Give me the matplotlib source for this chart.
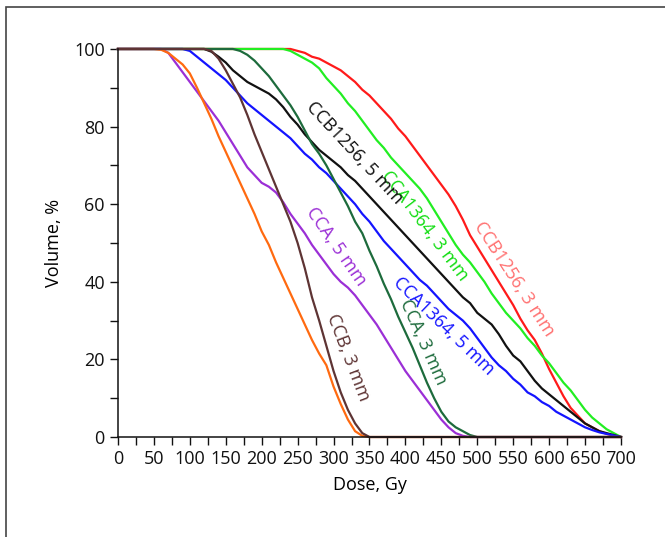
import matplotlib
matplotlib.use("Agg")
import matplotlib.pyplot as plt
from matplotlib.patches import Rectangle
from matplotlib.ticker import MultipleLocator

plt.rcParams['font.family'] = ['Open Sans', 'DejaVu Sans']

# dose grid, Gy (every 10 Gy from 0 to 700)
dose = [0, 10, 20, 30, 40, 50, 60, 70, 80, 90,
        100, 110, 120, 130, 140, 150, 160, 170, 180, 190,
        200, 210, 220, 230, 240, 250, 260, 270, 280, 290,
        300, 310, 320, 330, 340, 350, 360, 370, 380, 390,
        400, 410, 420, 430, 440, 450, 460, 470, 480, 490,
        500, 510, 520, 530, 540, 550, 560, 570, 580, 590,
        600, 610, 620, 630, 640, 650, 660, 670, 680, 690,
        700]

# volume, %
v_orange = [100, 100, 100, 100, 100, 100, 99.8, 99, 97.5, 96,
            93.7, 90, 86, 82, 77.5, 73.5, 69.5, 65.5, 61.5, 57.5,
            53, 49.5, 45, 41, 37, 33, 29, 25, 21.5, 18.5,
            13, 8.5, 4.5, 1.5, 0.3, 0, 0, 0, 0, 0,
            0, 0, 0, 0, 0, 0, 0, 0, 0, 0,
            0, 0, 0, 0, 0, 0, 0, 0, 0, 0,
            0, 0, 0, 0, 0, 0, 0, 0, 0, 0,
            0]
v_cca5 = [100, 100, 100, 100, 100, 100, 100, 99, 96.5, 94,
          91.5, 89, 86.5, 84, 81.5, 78.5, 75.5, 72.5, 69.5, 67.5,
          65.5, 64.5, 63, 60.5, 57.5, 55, 52.5, 49.5, 47, 44.5,
          42, 40, 38.5, 36.5, 34, 31.5, 29, 26, 23, 20,
          17, 14.5, 12, 9.5, 7, 4.5, 2.5, 1, 0.3, 0,
          0, 0, 0, 0, 0, 0, 0, 0, 0, 0,
          0, 0, 0, 0, 0, 0, 0, 0, 0, 0,
          0]
v_ccb3 = [100, 100, 100, 100, 100, 100, 100, 100, 100, 100,
          100, 100, 100, 99.5, 97.5, 94.5, 91, 87.5, 83, 78,
          73.5, 69, 64.5, 60, 55.5, 50, 43.5, 36, 30, 23.5,
          17, 11.5, 7, 3.5, 1, 0, 0, 0, 0, 0,
          0, 0, 0, 0, 0, 0, 0, 0, 0, 0,
          0, 0, 0, 0, 0, 0, 0, 0, 0, 0,
          0, 0, 0, 0, 0, 0, 0, 0, 0, 0,
          0]
v_cca1364_5 = [100, 100, 100, 100, 100, 100, 100, 100, 100, 100,
               99.5, 98, 96.5, 95, 93.5, 92, 90, 88, 86, 84.5,
               83, 81.5, 80, 78.5, 77, 75, 73, 71.5, 69.5, 68,
               66, 64, 62, 60, 57.5, 55.5, 53, 50.5, 48.5, 46.5,
               44.5, 42.5, 40.5, 39, 37, 35, 33, 31.5, 30, 28,
               25.5, 23, 20.5, 18.5, 17, 15, 13.5, 11.5, 10.5, 9,
               8, 6.5, 5.5, 4.5, 3.5, 2.5, 1.8, 1.2, 0.8, 0.4,
               0]
v_ccb1256_5 = [100, 100, 100, 100, 100, 100, 100, 100, 100, 100,
               100, 100, 100, 99.3, 98, 96.5, 94.5, 93, 91.5, 90.5,
               89.5, 88.5, 87, 85, 82.5, 80.5, 78, 76, 74, 72.5,
               71, 69.5, 67.5, 66, 64, 62, 60, 58, 56, 54,
               52, 50, 48, 46, 44, 42, 40, 38, 36, 34.5,
               32, 30.5, 29, 26.5, 23.5, 21, 19.5, 17, 14.5, 12.5,
               11, 9.5, 8, 6.5, 5, 3.5, 2.5, 1.5, 1, 0.5,
               0]
v_cca3 = [100, 100, 100, 100, 100, 100, 100, 100, 100, 100,
          100, 100, 100, 100, 100, 100, 100, 99.5, 98.5, 97,
          95, 93, 90.5, 88, 85.5, 82.5, 79, 75.5, 73, 70,
          66.5, 63, 59.5, 55.5, 52.5, 48, 44, 39.5, 35.5, 31,
          27, 23, 18.5, 14, 10, 6.5, 4, 2.5, 1.5, 0.5,
          0, 0, 0, 0, 0, 0, 0, 0, 0, 0,
          0, 0, 0, 0, 0, 0, 0, 0, 0, 0,
          0]
v_cca1364_3 = [100, 100, 100, 100, 100, 100, 100, 100, 100, 100,
               100, 100, 100, 100, 100, 100, 100, 100, 100, 100,
               100, 100, 100, 100, 99.5, 98.5, 97.5, 96.5, 95, 92.5,
               90.5, 88.5, 86, 84, 81.5, 79, 76.5, 74.5, 72, 70,
               68, 66, 64, 61.5, 58.5, 55.5, 52.5, 49.5, 47, 45,
               42.5, 40, 37, 34.5, 32, 30, 28, 25.5, 23.5, 21,
               19, 16.5, 14, 12, 9.5, 7, 5, 3.5, 2, 1,
               0]
v_ccb1256_3 = [100, 100, 100, 100, 100, 100, 100, 100, 100, 100,
               100, 100, 100, 100, 100, 100, 100, 100, 100, 100,
               100, 100, 100, 100, 100, 99.5, 99, 98, 97.5, 96.5,
               95.5, 94.5, 93, 91.5, 89.5, 88, 86, 84, 82, 79.5,
               77.5, 75, 72.5, 70, 67.5, 65, 62.5, 59.5, 56, 52,
               49, 46, 43, 40, 37, 34, 30.5, 27.5, 25, 21.5,
               17.5, 14, 10.5, 7.5, 5.5, 3.5, 2.5, 1.5, 0.8, 0.3,
               0]

# curve colour, label text, label colour, label position (Gy, %) and angle
curves = [
    (v_ccb1256_3, '#ff1a1a', 'CCB1256, 3 mm', '#ff7070', (551, 40.7), -57),
    (v_cca1364_3, '#22ee22', 'CCA1364, 3 mm', '#11dd11', (427, 54.4), -53),
    (v_ccb1256_5, '#111111', 'CCB1256, 5 mm', '#111111', (329, 73.3), -47),
    (v_cca1364_5, '#1414ff', 'CCA1364, 5 mm', '#1414ff', (453, 28.6), -44),
    (v_cca3, '#1d6b3c', 'CCA, 3 mm', '#1d6b3c', (424, 24.5), -66),
    (v_cca5, '#9b2fd6', 'CCA, 5 mm', '#9b2fd6', (304, 49), -55),
    (v_orange, '#ff6a10', None, None, None, 0),
    (v_ccb3, '#5e3434', 'CCB, 3 mm', '#5e3434', (320, 20.4), -69),
]

fig = plt.figure(figsize=(6.65, 5.37), dpi=100)
ax = fig.add_axes([0.1774, 0.1862, 0.7564, 0.7226])

for vals, col, lab, lcol, pos, ang in curves:
    ax.plot(dose, vals, color=col, lw=1.6, clip_on=False)
    if lab:
        ax.text(pos[0], pos[1], lab, color=lcol, fontsize=13, rotation=ang,
                ha='center', va='center', rotation_mode='anchor')

ax.set_xlim(0, 700)
ax.set_ylim(0, 100)
ax.xaxis.set_major_locator(MultipleLocator(50))
ax.xaxis.set_minor_locator(MultipleLocator(25))
ax.yaxis.set_major_locator(MultipleLocator(20))
ax.yaxis.set_minor_locator(MultipleLocator(10))
ax.tick_params(which='both', direction='out', width=1, labelsize=13, colors='#111111')
ax.tick_params(which='major', length=6)
ax.tick_params(which='minor', length=5.5)
ax.tick_params(axis='x', pad=3)
for side in ['top', 'right']:
    ax.spines[side].set_visible(False)
for side in ['left', 'bottom']:
    ax.spines[side].set_linewidth(1.1)
    ax.spines[side].set_color('#111111')

ax.set_xlabel('Dose, Gy', fontsize=13, labelpad=6)
ax.set_ylabel('Volume, %', fontsize=13, labelpad=8)

# thin frame round the figure, as in the source
fig.patches.append(Rectangle((6 / 665, -0.2), 1.2, 0.2 + (1 - 7 / 537),
                             transform=fig.transFigure, fill=False,
                             edgecolor='#444444', lw=1.2))

fig.savefig('out.png', dpi=100)
